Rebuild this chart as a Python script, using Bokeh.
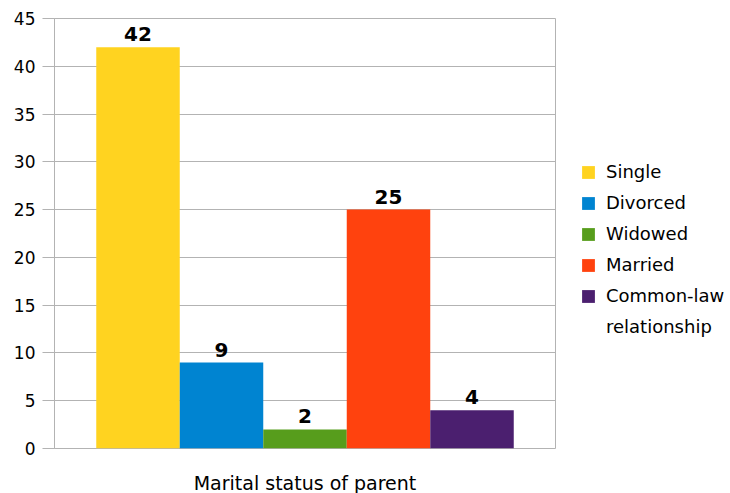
from bokeh.plotting import figure
from bokeh.models import ColumnDataSource, Legend, LegendItem, Range1d, FixedTicker
from bokeh.embed import file_html
from bokeh.resources import INLINE
from bokeh.core.properties import value

statuses = ["Single", "Divorced", "Widowed", "Married", "Common-law relationship"]
legend_lines = [["Single"], ["Divorced"], ["Widowed"], ["Married"], ["Common-law", "relationship"]]
counts = [42, 9, 2, 25, 4]
colors = ["#FFD320", "#0084D1", "#579D1C", "#FF420E", "#4B1F6F"]
y_ticks = [0, 5, 10, 15, 20, 25, 30, 35, 40, 45]
x_title = "Marital status of parent"

positions = [i + 1 for i in range(len(statuses))]
src = ColumnDataSource(dict(x=positions, top=counts, color=colors,
                            label=[str(c) for c in counts], name=statuses))

p = figure(frame_width=501, frame_height=430, output_backend="svg", toolbar_location=None,
           x_range=Range1d(0, len(statuses) + 1), y_range=Range1d(0, 45))
p.min_border_left = 54
p.min_border_top = 18
p.min_border_right = 0
p.min_border_bottom = 45
p.outline_line_color = "#b3b3b3"
p.background_fill_color = "white"
p.border_fill_color = "white"

r = p.vbar(x="x", top="top", width=1.0, color="color", source=src, line_color=None)
blank = p.vbar(x=[], top=[], width=1.0, fill_alpha=0, line_alpha=0)
p.text(x="x", y="top", text="label", source=src, text_align="center", text_baseline="bottom",
       y_offset=-6, text_font=value("DejaVu Sans"), text_font_style="bold",
       text_font_size="20px", text_color="black")

p.xgrid.visible = False
p.ygrid.grid_line_color = "#b3b3b3"
p.yaxis.ticker = FixedTicker(ticks=y_ticks)
p.yaxis.minor_tick_line_color = None
p.yaxis.major_tick_in = 0
p.yaxis.major_tick_out = 12
p.yaxis.major_tick_line_color = "#b3b3b3"
p.yaxis.axis_line_color = "#b3b3b3"
p.yaxis.major_label_text_font = "DejaVu Sans"
p.yaxis.major_label_text_font_size = "17px"
p.yaxis.major_label_text_color = "black"
p.yaxis.major_label_standoff = 7

p.xaxis.ticker = FixedTicker(ticks=[])
p.xaxis.major_tick_line_color = None
p.xaxis.minor_tick_line_color = None
p.xaxis.axis_line_color = None
p.xaxis.axis_label = x_title
p.xaxis.axis_label_text_font = "DejaVu Sans"
p.xaxis.axis_label_text_font_style = "normal"
p.xaxis.axis_label_text_font_size = "19px"
p.xaxis.axis_label_text_color = "black"
p.xaxis.axis_label_standoff = 23

items = []
for i, lines in enumerate(legend_lines):
    items.append(LegendItem(label=lines[0], renderers=[r], index=i))
    for extra in lines[1:]:
        items.append(LegendItem(label=extra, renderers=[blank]))
legend = Legend(items=items, location="top_left", border_line_color=None,
                background_fill_alpha=0, glyph_width=16, glyph_height=16,
                label_text_font="DejaVu Sans", label_text_font_size="18px",
                label_text_color="black",
                title=" ", title_text_font_size="18px", title_standoff=97,
                label_standoff=10, spacing=10, label_height=21, padding=0, margin=25)
p.add_layout(legend, "right")

open("out.html", "w").write(file_html(p, INLINE))
